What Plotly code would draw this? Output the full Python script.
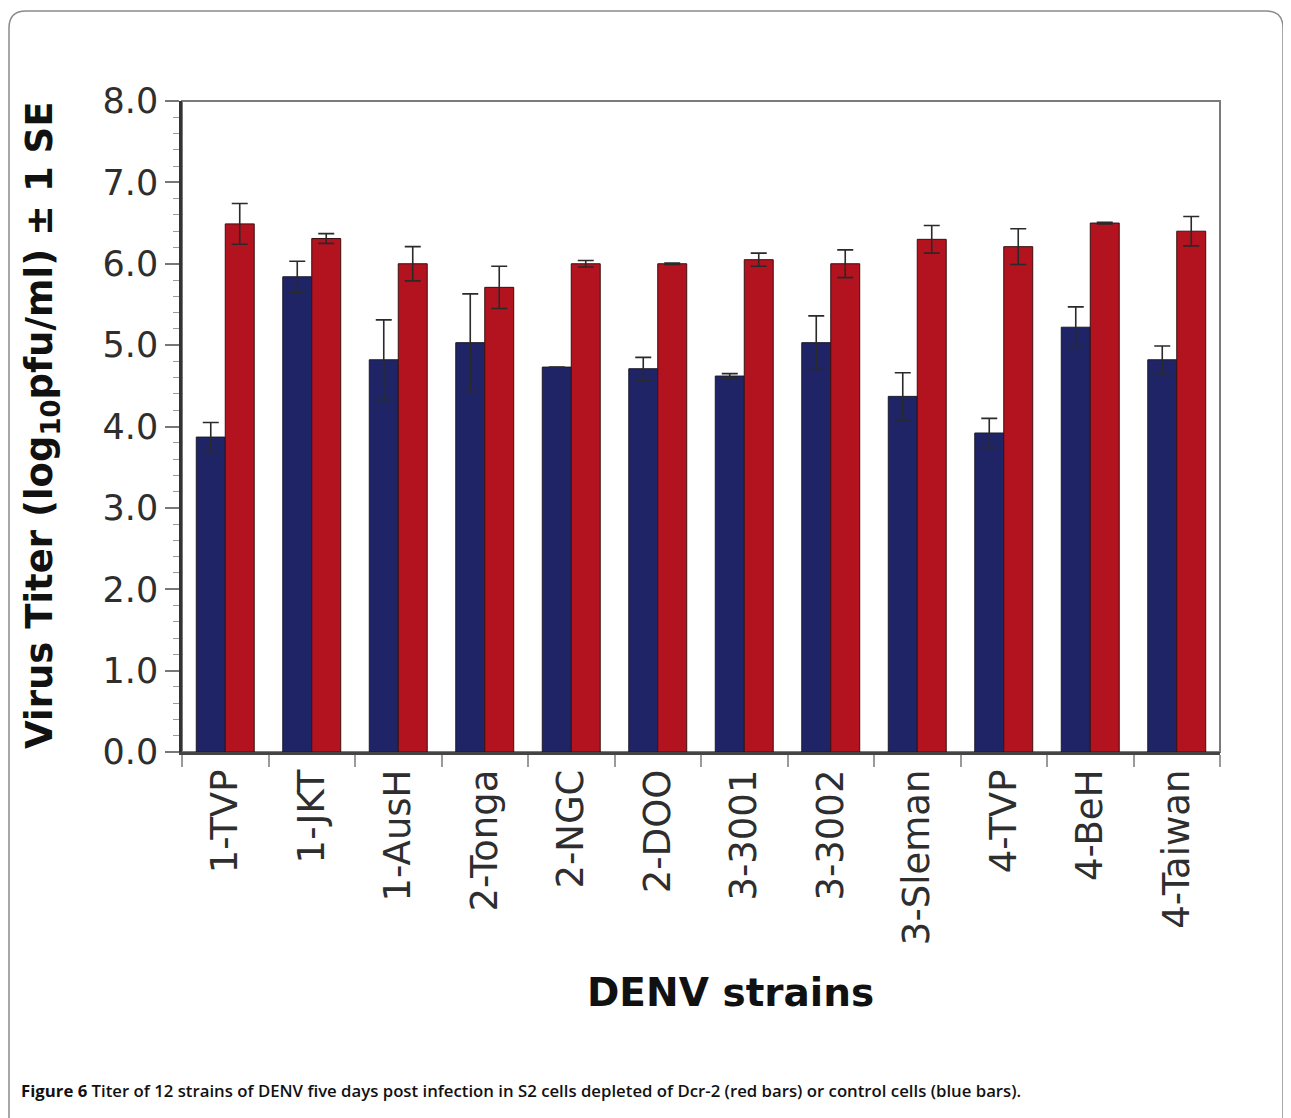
import plotly.graph_objects as go

strains = ["1-TVP", "1-JKT", "1-AusH", "2-Tonga", "2-NGC", "2-DOO",
           "3-3001", "3-3002", "3-Sleman", "4-TVP", "4-BeH", "4-Taiwan"]
control_titer = [3.87, 5.84, 4.82, 5.03, 4.73, 4.71, 4.62, 5.03, 4.37, 3.92, 5.22, 4.82]
control_se = [0.18, 0.19, 0.49, 0.60, 0.00, 0.14, 0.03, 0.33, 0.29, 0.18, 0.25, 0.17]
dcr2_titer = [6.49, 6.31, 6.00, 5.71, 6.00, 6.00, 6.05, 6.00, 6.30, 6.21, 6.50, 6.40]
dcr2_se = [0.25, 0.06, 0.21, 0.26, 0.04, 0.01, 0.08, 0.17, 0.17, 0.22, 0.01, 0.18]
y_ticks = [0, 1, 2, 3, 4, 5, 6, 7, 8]

OFF = 8  # page body margin
W, H = 1291 - OFF, 1118 - OFF
L, R, T, B = 182 - OFF, 1220 - OFF, 101 - OFF, 752 - OFF


def px(xp):
    return (xp - OFF - L) / (R - L)


def py(yp):
    return (B - (yp - OFF)) / (B - T)


err_style = dict(type="data", symmetric=True, color="#2a2a2a", thickness=1.6, width=8)

fig = go.Figure()
fig.add_trace(go.Bar(
    x=strains, y=control_titer, name="control cells",
    marker=dict(color="#1f2466", line=dict(color="#1a1a2a", width=1)),
    error_y=dict(array=control_se, **err_style),
))
fig.add_trace(go.Bar(
    x=strains, y=dcr2_titer, name="Dcr-2 depleted",
    marker=dict(color="#b3121f", line=dict(color="#3a1010", width=1)),
    error_y=dict(array=dcr2_se, **err_style),
))

ytick_font = dict(family="DejaVu Sans, Liberation Sans, Arial", size=35, color="#2e2e2e")
xtick_font = dict(family="DejaVu Sans, Liberation Sans, Arial", size=37, color="#2e2e2e")

fig.update_layout(
    width=W, height=H,
    margin=dict(l=L, r=W - R, t=T, b=H - B),
    paper_bgcolor="white", plot_bgcolor="white",
    barmode="group", bargap=0.33, bargroupgap=0,
    showlegend=False,
    xaxis=dict(
        type="category", tickangle=-90, tickfont=xtick_font,
        tickson="boundaries", ticks="outside", ticklen=12, tickwidth=1.5,
        tickcolor="#9a9a9a", showline=True, linecolor="#444444", linewidth=2.5,
        showgrid=False, zeroline=False,
    ),
    yaxis=dict(
        range=[0, 8], tickvals=y_ticks, ticktext=[f"{v:.1f}" for v in y_ticks],
        tickfont=ytick_font, ticks="outside", ticklen=14, tickwidth=1.5,
        tickcolor="#777777", showline=True, linecolor="#333333", linewidth=2.5,
        showgrid=False, zeroline=False, ticklabelstandoff=0,
        minor=dict(dtick=0.2, ticks="outside", ticklen=6, tickwidth=1.2,
                   tickcolor="#999999", showgrid=False),
    ),
)

# plot frame (top/right in gray)
fig.add_shape(type="rect", xref="paper", yref="paper", x0=0, x1=1, y0=0, y1=1,
              line=dict(color="#7a7a7a", width=2), layer="below")

# outer rounded border
r = 17
x_l, x_r, y_t, y_b = 9, 1283, 11, 1130
path = (f"M {px(x_l)},{py(y_b)} L {px(x_l)},{py(y_t + r)} "
        f"Q {px(x_l)},{py(y_t)} {px(x_l + r)},{py(y_t)} "
        f"L {px(x_r - r)},{py(y_t)} Q {px(x_r)},{py(y_t)} {px(x_r)},{py(y_t + r)} "
        f"L {px(x_r)},{py(y_b)}")
fig.add_shape(type="path", xref="paper", yref="paper", path=path,
              line=dict(color="#8a8a8a", width=1.5))

title_font = dict(family="DejaVu Sans, Liberation Sans, Arial", size=37, color="#111111")

fig.add_annotation(
    text="<b>Virus Titer (log<sub>10</sub>pfu/ml) ± 1 SE</b>",
    xref="paper", yref="paper", x=px(42), y=py(426), textangle=-90,
    xanchor="center", yanchor="middle", showarrow=False, font=title_font,
)
fig.add_annotation(
    text="<b>DENV strains</b>",
    xref="paper", yref="paper", x=px(730), y=py(992),
    xanchor="center", yanchor="middle", showarrow=False,
    font=dict(family="DejaVu Sans, Liberation Sans, Arial", size=39, color="#111111"),
)
fig.add_annotation(
    text="<b>Figure 6</b> Titer of 12 strains of DENV five days post infection in S2 cells "
         "depleted of Dcr-2 (red bars) or control cells (blue bars).",
    xref="paper", yref="paper", x=px(19), y=py(1090),
    xanchor="left", yanchor="middle", showarrow=False,
    font=dict(family="Open Sans", size=16.75, color="#111111", weight=600),
)

fig.write_html("out.html")
